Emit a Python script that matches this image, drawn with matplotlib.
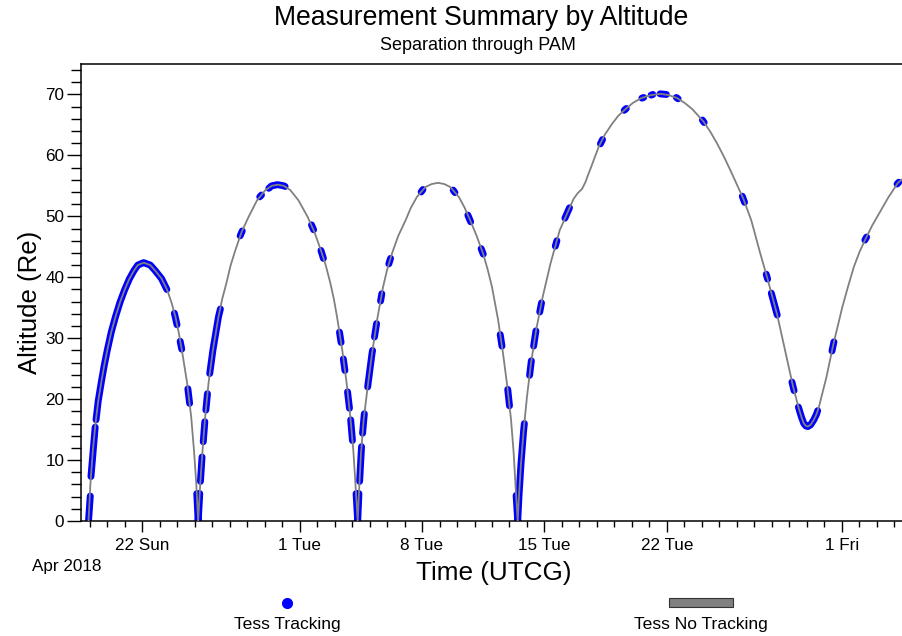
import matplotlib

matplotlib.use("Agg")
import matplotlib.pyplot as plt
from matplotlib.patches import Rectangle
from matplotlib.ticker import FixedLocator, MultipleLocator

# time is counted in days from 2018-04-00, so 22 = Apr 22 and 31 = May 1
orbit_day = [
    18.93, 19.04, 19.18, 19.33, 19.48, 19.65, 19.82, 20.00, 20.23, 20.47, 20.73, 20.99, 21.26,
    21.53, 21.75, 22.08, 22.46, 22.74, 23.10, 23.43, 23.67, 23.90, 24.09, 24.27, 24.57, 24.80,
    24.96, 25.09, 25.20,
    25.32, 25.45, 25.60, 25.79, 26.04, 26.36, 26.57, 26.81, 27.05, 27.32, 27.68, 28.08, 28.56,
    29.04, 29.40, 29.74, 30.10, 30.47, 30.94, 31.46, 31.85, 32.22, 32.50, 32.76, 32.96, 33.14,
    33.44, 33.69, 33.90, 34.07, 34.19, 34.32,
    34.41, 34.51, 34.66, 34.89, 35.14, 35.43, 35.77, 36.00, 36.28, 36.64, 37.05, 37.36, 37.71,
    38.19, 38.55, 38.92, 39.27, 39.62, 40.10, 40.42, 40.76, 41.12, 41.49, 41.76, 42.00, 42.35,
    42.63, 42.88, 43.09, 43.24, 43.35, 43.47,
    43.54, 43.66, 43.81, 44.00, 44.23, 44.52, 44.90, 45.34, 45.87, 46.45, 46.67, 46.90, 47.15,
    47.34, 47.48, 47.63, 48.10, 48.45, 48.87, 49.22, 49.60, 50.05, 50.53, 51.10, 51.63, 52.10,
    52.59, 53.02, 53.45, 54.08, 54.48, 54.88, 55.26, 55.64, 56.37, 56.83, 57.32, 57.73, 58.31,
    58.78, 59.22, 59.54, 59.70, 59.83, 59.95, 60.06, 60.22, 60.40, 60.55, 60.69, 61.13, 61.51,
    62.03, 62.36, 62.69, 63.02, 63.36, 63.74, 64.12, 64.66, 65.21, 65.50,
]
orbit_alt = [
    0.0, 6.2, 11.6, 16.0, 19.6, 22.6, 25.4, 28.0, 31.0, 33.5, 35.9, 37.9, 39.7,
    41.1, 42.0, 42.4, 42.0, 41.1, 39.8, 37.9, 35.9, 33.5, 30.9, 28.0, 22.6, 17.1,
    11.6, 6.2, 0.0,
    6.2, 11.6, 17.1, 22.6, 28.0, 33.5, 36.4, 39.0, 41.9, 44.4, 47.4, 49.9, 52.6,
    54.3, 55.0, 55.2, 55.0, 54.3, 52.6, 49.9, 47.4, 44.4, 41.9, 39.0, 36.4, 33.5,
    28.0, 22.6, 17.1, 11.6, 6.2, 0.0,
    5.6, 11.1, 16.6, 22.0, 27.5, 33.0, 38.4, 41.2, 43.9, 46.8, 49.3, 51.4, 53.2,
    54.8, 55.3, 55.5, 55.3, 54.8, 53.2, 51.5, 49.3, 46.8, 43.9, 41.2, 38.4, 33.0,
    27.5, 22.0, 16.6, 11.1, 5.6, 0.0,
    4.0, 9.5, 14.9, 20.4, 25.9, 31.3, 36.8, 42.2, 47.7, 51.5, 52.9, 53.8, 54.5,
    55.6, 56.7, 57.8, 61.4, 63.4, 65.2, 66.5, 67.5, 68.6, 69.4, 69.9, 70.1, 69.9,
    69.4, 68.6, 67.6, 65.6, 63.9, 61.9, 59.8, 57.5, 52.9, 49.3, 44.1, 40.0, 33.8,
    27.7, 22.0, 18.5, 17.0, 16.0, 15.6, 15.5, 15.8, 16.6, 17.5, 18.7, 23.7, 28.9,
    35.1, 38.5, 41.7, 44.2, 46.3, 48.5, 50.4, 53.1, 55.5, 56.2,
]

# tracking passes, one list per pass
track_day = [
    [18.93, 19.03], [19.07, 19.31],
    [19.36, 19.48, 19.65, 19.82, 20.00, 20.23, 20.47, 20.73, 20.99, 21.26, 21.53, 21.75, 22.08,
     22.46, 22.74, 23.10, 23.41],
    [23.84, 23.99], [24.17, 24.26], [24.61, 24.71], [25.12, 25.20, 25.29],
    [25.33, 25.42], [25.49, 25.58], [25.64, 25.73], [25.86, 26.04, 26.36, 26.47],
    [27.60, 27.72], [28.72, 28.82], [29.24, 29.40, 29.74, 30.10, 30.17],
    [31.68, 31.80], [32.22, 32.36], [33.28, 33.37], [33.50, 33.59], [33.74, 33.85],
    [33.92, 34.02], [34.23, 34.32, 34.39],
    [34.43, 34.54], [34.60, 34.70], [34.89, 35.14, 35.17], [35.28, 35.40], [35.63, 35.70],
    [36.10, 36.20], [37.95, 38.05], [39.78, 39.88], [40.62, 40.78], [41.38, 41.50],
    [42.47, 42.57], [42.90, 43.00], [43.38, 43.47, 43.54, 43.66, 43.81, 43.85],
    [44.15, 44.25], [44.38, 44.51], [44.73, 44.83], [45.62, 45.71], [46.17, 46.43],
    [48.20, 48.32], [49.56, 49.68], [50.57, 50.67], [51.10, 51.20], [51.61, 51.97],
    [52.54, 52.64], [54.03, 54.13], [56.31, 56.44], [57.68, 57.76], [57.97, 58.31],
    [59.15, 59.27], [59.52, 59.70, 59.83, 59.95, 60.06, 60.22, 60.40, 60.55, 60.62],
    [61.44, 61.55], [63.32, 63.42], [65.16, 65.26],
]
track_alt = [
    [0.0, 4.1], [7.3, 15.4],
    [16.6, 19.6, 22.6, 25.4, 28.0, 31.0, 33.5, 35.9, 37.9, 39.7, 41.1, 42.0, 42.4,
     42.0, 41.1, 39.8, 38.0],
    [34.1, 32.2], [29.5, 28.2], [21.7, 19.3], [4.5, 0.0, 4.5],
    [6.5, 10.5], [13.0, 16.3], [18.2, 20.9], [24.2, 28.0, 33.5, 34.8],
    [46.8, 47.6], [53.2, 53.5], [54.6, 55.0, 55.2, 55.0, 54.9],
    [48.6, 47.8], [44.4, 43.1], [31.0, 29.3], [26.6, 24.7], [21.2, 18.5],
    [16.6, 13.2], [4.5, 0.0, 4.5],
    [6.5, 12.2], [14.4, 17.6], [22.0, 27.5, 28.0], [30.2, 32.4], [36.1, 37.3],
    [42.2, 43.1], [54.0, 54.4], [54.3, 53.9], [50.2, 49.1], [44.7, 43.8],
    [30.6, 28.7], [21.6, 18.9], [4.2, 0.0, 4.0, 9.5, 14.9, 16.0],
    [23.9, 26.3], [28.7, 31.2], [34.3, 35.8], [45.1, 46.0], [49.7, 51.4],
    [61.9, 62.6], [67.4, 67.7], [69.4, 69.5], [69.9, 70.0], [70.1, 70.0],
    [69.5, 69.3], [65.8, 65.4], [53.3, 52.3], [40.5, 39.7], [37.4, 33.8],
    [22.8, 21.4], [18.7, 17.0, 16.0, 15.6, 15.5, 15.8, 16.6, 17.5, 18.1],
    [27.9, 29.4], [46.1, 46.6], [55.3, 55.6],
]

tick_day = [22, 31, 38, 45, 52, 62]
tick_label = ["22 Sun", "1 Tue", "8 Tue", "15 Tue", "22 Tue", "1 Fri"]

BLUE = "#0000ff"
GREY = "#808080"
W, H = 903, 636

plt.rcParams["font.family"] = ["Liberation Sans", "DejaVu Sans"]

fig = plt.figure(figsize=(W / 100, H / 100), dpi=100)
ax = fig.add_axes([81 / W, 1 - 521 / H, 822 / W, 457 / H])

for days, alts in zip(track_day, track_alt):
    ax.plot(days, alts, color=BLUE, lw=5, solid_capstyle="round", solid_joinstyle="round", zorder=2)
ax.plot(orbit_day, orbit_alt, color=GREY, lw=1.3, solid_joinstyle="round", zorder=3)

ax.set_xlim(18.5, 65.5)
ax.set_ylim(0, 75)
ax.xaxis.set_major_locator(FixedLocator(tick_day))
ax.set_xticklabels(tick_label)
ax.xaxis.set_minor_locator(MultipleLocator(1))
ax.yaxis.set_major_locator(MultipleLocator(10))
ax.yaxis.set_minor_locator(MultipleLocator(2))
ax.tick_params(axis="x", which="major", length=8, width=1, pad=4, labelsize=12.3)
ax.tick_params(axis="x", which="minor", length=4.5, width=1)
ax.tick_params(axis="y", which="major", length=10, width=1, pad=2, labelsize=12.3)
ax.tick_params(axis="y", which="minor", length=7, width=1)
ax.spines["right"].set_visible(False)
for side in ("left", "top", "bottom"):
    ax.spines[side].set_linewidth(1.1)

ax.set_xlabel("Time (UTCG)", fontsize=18.8, va="center")
ax.xaxis.set_label_coords((494 - 81) / 822, (521 - 573) / 457)
ax.set_ylabel("Altitude (Re)", fontsize=18.5, va="center")
ax.yaxis.set_label_coords((30 - 81) / 822, (521 - 302) / 457)

# overlay in pixel units for the title block and the key
lax = fig.add_axes([0, 0, 1, 1], facecolor="none")
lax.set_xlim(0, W)
lax.set_ylim(H, 0)
lax.axis("off")
lax.text(481, 18, "Measurement Summary by Altitude", fontsize=19.2, ha="center", va="center")
lax.text(478, 45, "Separation through PAM", fontsize=13, ha="center", va="center")
lax.text(67, 566, "Apr 2018", fontsize=12.3, ha="center", va="center")

lax.plot([287], [603], "o", color=BLUE, ms=7)
lax.text(287, 624, "Tess Tracking", fontsize=12.6, ha="center", va="center")
lax.add_patch(Rectangle((669, 598), 64, 9, facecolor=GREY, edgecolor="#333333", lw=0.8))
lax.text(701, 624, "Tess No Tracking", fontsize=12.6, ha="center", va="center")

fig.savefig("out.png", dpi=100)
plt.close(fig)
